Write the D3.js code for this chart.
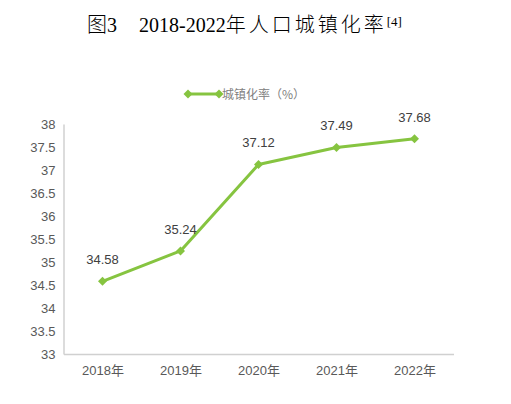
<!DOCTYPE html>
<html>
<head>
<meta charset="utf-8">
<script src="https://cdn.jsdelivr.net/npm/d3@7"></script>
<style>
  body { margin: 0; background: #fff; }
  svg { display: block; }
</style>
</head>
<body>
<div id="chart"></div>
<script>
// urbanization rate 2018-2022
const years = ["2018年", "2019年", "2020年", "2021年", "2022年"];
const rates = [34.58, 35.24, 37.12, 37.49, 37.68];
const yTicks = [33, 33.5, 34, 34.5, 35, 35.5, 36, 36.5, 37, 37.5, 38];
const seriesName = "城镇化率（%）";

const width = 511, height = 404;
const green = "#86c440";
const numFont = "'Liberation Sans Narrow', 'Liberation Sans', 'Noto Sans CJK SC', sans-serif";

const svg = d3.select("#chart").append("svg")
  .attr("width", width)
  .attr("height", height);

// title, built from pieces so the CJK part gets its wider spacing
const title = svg.append("text")
  .attr("x", 87)
  .attr("y", 32)
  .attr("font-family", "'Liberation Serif', 'Noto Sans CJK SC', serif")
  .attr("font-size", 20)
  .attr("fill", "#000");
title.append("tspan").attr("font-weight", 300).text("图");
title.append("tspan").text("3");
title.append("tspan").attr("dx", 22).text("2018-2022");
title.append("tspan").attr("font-weight", 300).attr("letter-spacing", 3).text("年人口城镇化率");
title.append("tspan").attr("font-size", 13).attr("dy", -6).text("[4]");

const x = d3.scalePoint()
  .domain(years)
  .range([63.5, 453.5])
  .padding(0.5);

const y = d3.scaleLinear()
  .domain([33, 38])
  .range([354, 124]);

// y axis
const yAxis = svg.append("g")
  .attr("transform", "translate(63.5,0)")
  .call(d3.axisLeft(y).tickValues(yTicks).tickSize(0).tickPadding(8)
    .tickFormat(d => String(d)));
yAxis.select(".domain").attr("stroke", "#d0d0d0").attr("stroke-width", 1.5);
yAxis.selectAll("text")
  .attr("font-family", numFont)
  .attr("font-size", 13)
  .attr("fill", "#595959");

// x axis
const xAxis = svg.append("g")
  .attr("transform", "translate(0,354)")
  .call(d3.axisBottom(x).tickSize(0).tickPadding(12));
xAxis.select(".domain").attr("stroke", "#d0d0d0").attr("stroke-width", 1.5);
xAxis.selectAll("text")
  .attr("font-family", numFont)
  .attr("font-size", 13)
  .attr("fill", "#595959");

const points = years.map((yr, i) => ({ year: yr, value: rates[i] }));

const line = d3.line()
  .x(d => x(d.year))
  .y(d => y(d.value));

svg.append("path")
  .datum(points)
  .attr("d", line)
  .attr("fill", "none")
  .attr("stroke", green)
  .attr("stroke-width", 3)
  .attr("stroke-linejoin", "round");

// rotated square as the marker (d3's diamond is too tall)
const marker = d3.symbol().type(d3.symbolSquare).size(40);

svg.append("g").selectAll("path")
  .data(points)
  .enter().append("path")
  .attr("d", marker)
  .attr("transform", d => `translate(${x(d.year)},${y(d.value)}) rotate(45)`)
  .attr("fill", green);

// value labels
svg.append("g").selectAll("text")
  .data(points)
  .enter().append("text")
  .attr("x", d => x(d.year))
  .attr("y", d => y(d.value) - 17)
  .attr("text-anchor", "middle")
  .attr("font-family", numFont)
  .attr("font-size", 13)
  .attr("fill", "#404040")
  .text(d => d.value.toFixed(2));

// legend
const legend = svg.append("g").attr("transform", "translate(188,94)");
legend.append("line")
  .attr("x1", 0).attr("x2", 31)
  .attr("stroke", green)
  .attr("stroke-width", 3);
legend.selectAll("path")
  .data([0, 31])
  .enter().append("path")
  .attr("d", marker)
  .attr("transform", d => `translate(${d},0) rotate(45)`)
  .attr("fill", green);
legend.append("text")
  .attr("x", 34)
  .attr("y", 4.5)
  .attr("font-family", "'Noto Sans CJK SC', sans-serif")
  .attr("font-size", 12)
  .attr("fill", "#808080")
  .text(seriesName);
</script>
</body>
</html>
